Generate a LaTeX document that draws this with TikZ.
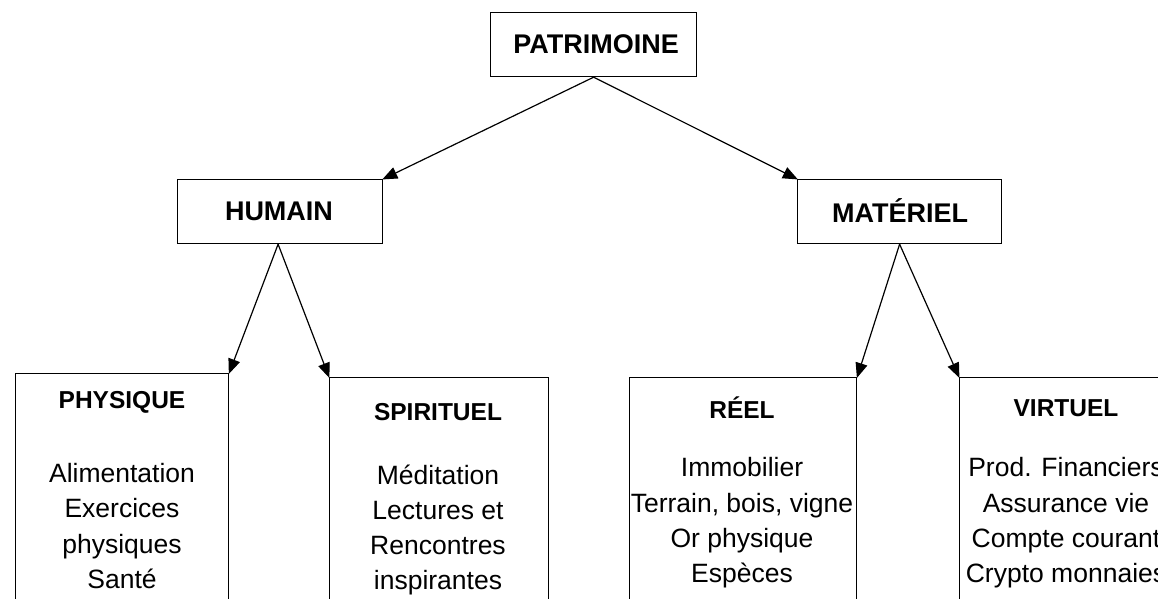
\documentclass[tikz,border=0pt]{standalone}
\usepackage{fontspec}
\setmainfont{Liberation Sans}
\usetikzlibrary{arrows.meta}
\begin{document}
\begin{tikzpicture}[x=1pt,y=-1pt,
  box/.style={draw=black,line width=1.2pt,fill=white,inner sep=0pt,anchor=north west},
  head/.style={font=\fontsize{27}{30}\selectfont\bfseries,inner sep=0pt},
  sub/.style={font=\fontsize{24.5}{30}\selectfont\bfseries,inner sep=0pt},
  body/.style={font=\fontsize{26.5}{35.3}\selectfont,align=center,inner sep=0pt},
  link/.style={line width=1.2pt,-{Triangle[length=15pt,width=12pt]},shorten >=-1pt}]
\useasboundingbox (0,0) rectangle (1158,598);
\clip (0,0) rectangle (1158,598);
\fill[white] (0,0) rectangle (1158,598);
% boxes
\node[box,minimum width=206pt,minimum height=64pt] (pat) at (490,12) {};
\node[box,minimum width=205pt,minimum height=64pt] (hum) at (177,179) {};
\node[box,minimum width=204pt,minimum height=64pt] (mat) at (797,179) {};
\node[box,minimum width=213pt,minimum height=260pt] (phy) at (15,373) {};
\node[box,minimum width=219pt,minimum height=260pt] (spi) at (329,377) {};
\node[box,minimum width=227pt,minimum height=260pt] (ree) at (629,377) {};
\node[box,minimum width=214pt,minimum height=260pt] (vir) at (959,377) {};
% titles
\node[head] (tpat) at (596,44) {PATRIMOINE};
\node[head] (thum) at (279,211) {HUMAIN};
\node[head] (tmat) at (900,211) {MATÉRIEL};
\node[sub] (tphy) at (122,402) {PHYSIQUE};
\node[sub] (tspi) at (438,412) {SPIRITUEL};
\node[sub] (tree) at (742,408) {RÉEL};
\node[sub] (tvir) at (1066,408) {VIRTUEL};
% bodies
\node[body] (bphy) at (122,526) {Alimentation\\Exercices\\physiques\\Santé};
\node[body] (bspi) at (438,530) {Méditation\\Lectures et\\Rencontres\\inspirantes};
\node[body] (bree) at (742,523) {Immobilier\\Terrain, bois, vigne\\Or physique\\Espèces};
\node[body] (bvir) at (1066,523) {Prod. Financiers\\Assurance vie\\Compte courant\\Crypto monnaies};
% connectors
\draw[link] (pat.south) -- (hum.north east);
\draw[link] (pat.south) -- (mat.north west);
\draw[link] ([xshift=-2pt]hum.south) -- (phy.north east);
\draw[link] ([xshift=-2pt]hum.south) -- (spi.north west);
\draw[link] (mat.south) -- (ree.north east);
\draw[link] (mat.south) -- (vir.north west);
\end{tikzpicture}
\end{document}
